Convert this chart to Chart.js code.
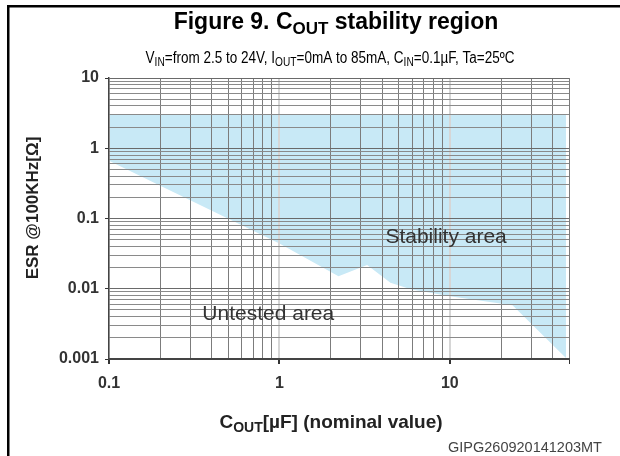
<!DOCTYPE html>
<html><head><meta charset="utf-8">
<script src="https://cdn.jsdelivr.net/npm/chart.js@4/dist/chart.umd.min.js"></script>
<style>html,body{margin:0;padding:0;background:#fff;}canvas{display:block;}</style>
</head><body>
<canvas id="c" width="620" height="456"></canvas>
<script>
// ---- data ----
const capacitance = [0.1, 0.2, 1.0, 2.22, 3.27, 4.48, 5.9, 10, 23.3, 48];
const esrMinStable = [0.665, 0.292, 0.044, 0.0151, 0.0217, 0.0122, 0.0098, 0.0078, 0.0058, 0.00103];
const esrMaxStable = [3, 3, 3, 3, 3, 3, 3, 3, 3, 3];
const xTickLabels = [0.1, 1, 10];
const yTickLabels = [0.001, 0.01, 0.1, 1, 10];
const xRange = [0.1, 50];
const yRange = [0.001, 10];
const areaLabels = ['Stability area', 'Untested area'];
const areaLabelX = [9.5, 0.86];
const areaLabelY = [0.054, 0.0043];

const FONT = '"Liberation Sans", Arial, sans-serif';

function isPow10(v){ const l = Math.log10(v); return Math.abs(l - Math.round(l)) < 1e-6; }
function inList(v, list){ return list.some(t => Math.abs(Math.log10(t) - Math.log10(v)) < 1e-6); }
function gridValues(range){
  const out = [];
  for (let e = Math.floor(Math.log10(range[0])); e <= Math.ceil(Math.log10(range[1])); e++) {
    for (let m = 1; m <= 9; m++) {
      const v = +(m * Math.pow(10, e)).toPrecision(4);
      if (v >= range[0] * 0.9999 && v <= range[1] * 1.0001) out.push(v);
    }
  }
  return out;
}

function drawRich(ctx, parts, cx, y, size, weight, family, subScale, subDrop, color, hScale){
  hScale = hScale || 1;
  const subSize = Math.round(size * subScale);
  const fMain = weight + ' ' + size + 'px ' + family;
  const fSub = weight + ' ' + subSize + 'px ' + family;
  let w = 0;
  parts.forEach(p => { ctx.font = p[1] ? fSub : fMain; w += ctx.measureText(p[0]).width; });
  ctx.save();
  ctx.translate(cx, y);
  ctx.scale(hScale, 1);
  let x = -w / 2;
  ctx.fillStyle = color;
  ctx.textAlign = 'left';
  ctx.textBaseline = 'alphabetic';
  parts.forEach(p => {
    ctx.font = p[1] ? fSub : fMain;
    ctx.fillText(p[0], x, p[1] ? subDrop : 0);
    x += ctx.measureText(p[0]).width;
  });
  ctx.restore();
}

const decor = {
  id: 'decor',
  afterDraw(chart){
    const ctx = chart.ctx;
    ctx.save();
    // page frame
    ctx.fillStyle = '#000';
    ctx.fillRect(7, 5, 2.5, 451);
    ctx.fillRect(7, 5, 613, 2.5);
    // title
    drawRich(ctx, [['Figure 9. C', false], ['OUT', true], [' stability region', false]],
      336, 29, 23, 'bold', FONT, 0.75, 5, '#000');
    // subtitle
    drawRich(ctx, [['V', false], ['IN', true], ['=from 2.5 to 24V, I', false], ['OUT', true],
      ['=0mA to 85mA, C', false], ['IN', true], ['=0.1µF, Ta=25ºC', false]],
      330, 63, 16, 'normal', FONT, 0.72, 3, '#000', 0.845);
    // x title
    drawRich(ctx, [['C', false], ['OUT', true], ['[µF] (nominal value)', false]],
      331, 428, 19, 'bold', FONT, 0.72, 4, '#222');
    // y title
    ctx.save();
    ctx.translate(38, 208);
    ctx.rotate(-Math.PI / 2);
    ctx.font = 'bold 17px ' + FONT;
    ctx.fillStyle = '#222';
    ctx.textAlign = 'center';
    ctx.textBaseline = 'alphabetic';
    ctx.fillText('ESR @100KHz[Ω]', 0, 0);
    ctx.restore();
    // code
    ctx.font = '14.5px ' + FONT;
    ctx.fillStyle = '#444';
    ctx.textAlign = 'left';
    ctx.textBaseline = 'alphabetic';
    ctx.fillText('GIPG260920141203MT', 448, 452);
    // area labels
    const xs = chart.scales.x, ys = chart.scales.y;
    ctx.font = '21px ' + FONT;
    ctx.fillStyle = '#333';
    ctx.textAlign = 'center';
    ctx.textBaseline = 'middle';
    areaLabels.forEach((t, i) => {
      ctx.fillText(t, xs.getPixelForValue(areaLabelX[i]), ys.getPixelForValue(areaLabelY[i]));
    });
    ctx.restore();
  }
};

const bottomData = capacitance.map((c, i) => ({x: c, y: esrMinStable[i]}));
const topData = capacitance.map((c, i) => ({x: c, y: esrMaxStable[i]}));

new Chart(document.getElementById('c'), {
  type: 'line',
  data: {
    datasets: [
      { label: 'min', data: bottomData, borderColor: 'transparent', pointRadius: 0, fill: false, tension: 0 },
      { label: 'stable', data: topData, borderColor: 'transparent', backgroundColor: 'rgb(200,233,246)', pointRadius: 0, fill: '-1', tension: 0 }
    ]
  },
  options: {
    responsive: false,
    animation: false,
    devicePixelRatio: 1,
    layout: { padding: { left: 0, right: 51, top: 78, bottom: 0 } },
    plugins: { legend: { display: false }, tooltip: { enabled: false } },
    scales: {
      x: {
        type: 'logarithmic', min: xRange[0], max: xRange[1],
        afterBuildTicks: s => { s.ticks = gridValues(xRange).map(v => ({value: v, major: isPow10(v)})); },
        afterFit: s => { s.height = 97; },
        grid: {
          z: 1,
          color: c => isPow10(c.tick.value) ? '#d6d6d6' : '#7c7c7c',
          lineWidth: c => isPow10(c.tick.value) ? 2 : 1,
          tickLength: 5,
          tickColor: c => inList(c.tick.value, xTickLabels.concat([50])) ? '#333' : 'rgba(0,0,0,0)'
        },
        border: { color: '#444', width: 2, z: 2 },
        ticks: {
          autoSkip: false, maxRotation: 0, padding: 10, color: '#333',
          font: { family: FONT, size: 16, weight: 'bold' },
          callback: v => inList(v, xTickLabels) ? String(v) : ''
        }
      },
      y: {
        type: 'logarithmic', min: yRange[0], max: yRange[1],
        afterBuildTicks: s => { s.ticks = gridValues(yRange).map(v => ({value: v, major: isPow10(v)})); },
        afterFit: s => { s.width = 109; },
        grid: {
          z: 1,
          color: c => isPow10(c.tick.value) ? '#6a6a6a' : '#8a8a8a',
          lineWidth: 1,
          tickLength: 4,
          tickColor: c => inList(c.tick.value, yTickLabels) ? '#333' : 'rgba(0,0,0,0)'
        },
        border: { color: '#444', width: 1.5, z: 2 },
        ticks: {
          autoSkip: false, padding: 6, color: '#333',
          font: { family: FONT, size: 16, weight: 'bold' },
          callback: v => inList(v, yTickLabels) ? String(v) : ''
        }
      }
    }
  },
  plugins: [decor]
});
</script>
</body></html>
